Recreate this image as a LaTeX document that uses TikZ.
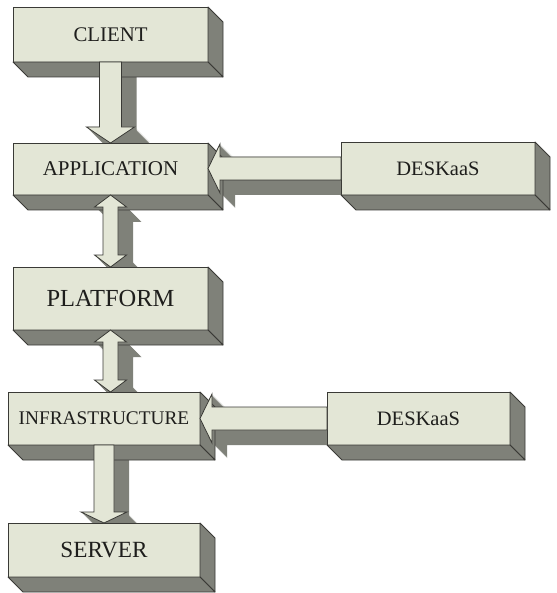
\documentclass[tikz,border=0pt]{standalone}
\usepackage{fontspec}
\setmainfont{Liberation Serif}
\usetikzlibrary{calc}
\pgfdeclarelayer{back}
\pgfsetlayers{back,main}
\definecolor{facecol}{HTML}{E3E6D6}
\definecolor{sidecol}{HTML}{7F8179}
\definecolor{edgecol}{HTML}{3A3A36}
\definecolor{txtcol}{HTML}{1E1E1C}
\tikzset{
 boxfront/.style={draw=edgecol, fill=facecol, line width=0.9pt, inner sep=0pt, outer sep=0pt, text=txtcol, anchor=center},
 boxside/.style={draw=edgecol, fill=sidecol, line width=0.8pt, line join=round},
 arrfront/.style={draw=edgecol, fill=facecol, line width=0.8pt, line join=miter},
 arrback/.style={fill=sidecol},
}
\newcommand\mkbox[7]{%
 \node[boxfront, minimum width={#4-#2}, minimum height={#5-#3}, font=\fontsize{#6}{#6}\selectfont] (#1) at ({(#2+#4)/2},{(#3+#5)/2}) {#7};
 \draw[boxside] (#1.north east) -- ++(15,15) -- ($(#1.south east)+(15,15)$) -- (#1.south east) -- cycle;
 \draw[boxside] (#1.south west) -- (#1.south east) -- ++(15,15) -- ($(#1.south west)+(15,15)$) -- cycle;
}
\newcommand\downarr[6]{%
 let \p1=($(#1)+(#6,#6)$), \p2=($(#2)+(#6,#6)$) in
 (\x1-#3pt,\y1) -- (\x1+#3pt,\y1) -- (\x1+#3pt,\y2+#5pt) -- (\x1+#4pt,\y2+#5pt) -- (\x1,\y2) -- (\x1-#4pt,\y2+#5pt) -- (\x1-#3pt,\y2+#5pt) -- cycle}
\newcommand\dblarr[6]{%
 let \p1=($(#1)+(#6,#6)$), \p2=($(#2)+(#6,#6)$) in
 (\x1,\y1) -- (\x1+#4pt,\y1-#5pt) -- (\x1+#3pt,\y1-#5pt) -- (\x1+#3pt,\y2+#5pt) -- (\x1+#4pt,\y2+#5pt) -- (\x1,\y2) -- (\x1-#4pt,\y2+#5pt) -- (\x1-#3pt,\y2+#5pt) -- (\x1-#3pt,\y1-#5pt) -- (\x1-#4pt,\y1-#5pt) -- cycle}
\newcommand\leftarr[6]{%
 let \p1=($(#1)+(#6,#6)$), \p2=($(#2)+(#6,#6)$) in
 (\x1,\y1+#3pt) -- (\x2+#5pt,\y1+#3pt) -- (\x2+#5pt,\y1+#4pt) -- (\x2,\y1) -- (\x2+#5pt,\y1-#4pt) -- (\x2+#5pt,\y1-#3pt) -- (\x1,\y1-#3pt) -- cycle}
\begin{document}
\begin{tikzpicture}[x=1pt,y=-1pt]
\useasboundingbox (0,0) rectangle (556,593);
\mkbox{client}{13}{7}{208}{62}{20.8}{CLIENT}
\mkbox{app}{13}{143}{208}{195}{21}{APPLICATION}
\mkbox{plat}{13}{267}{208}{330}{24.5}{PLATFORM}
\mkbox{infra}{8}{392}{200}{445}{19.3}{INFRASTRUCTURE}
\mkbox{server}{8}{523}{200}{577}{23.2}{SERVER}
\mkbox{deskA}{341}{142}{535}{195}{20.5}{DESKaaS}
\mkbox{deskB}{327}{392}{510}{445}{20.5}{DESKaaS}
\begin{pgfonlayer}{back}
 \fill[white] (0,0) rectangle (556,593);
 \foreach \k in {0,1,...,15} {
  \fill[arrback] \downarr{client.south}{app.north}{11}{24}{16}{\k};
  \fill[arrback] \dblarr{app.south}{plat.north}{7.5}{16}{12}{\k};
  \fill[arrback] \dblarr{plat.south}{infra.north}{7.5}{16}{12}{\k};
  \fill[arrback] \downarr{infra.south}{server.north}{10}{23}{11}{\k};
  \fill[arrback] \leftarr{deskA.west}{app.east}{11.5}{24.5}{12}{\k};
  \fill[arrback] \leftarr{deskB.west}{infra.east}{11.5}{24.5}{12}{\k};
 }
\end{pgfonlayer}
\draw[arrfront] \downarr{client.south}{app.north}{11}{24}{16}{0};
\draw[arrfront] \dblarr{app.south}{plat.north}{7.5}{16}{12}{0};
\draw[arrfront] \dblarr{plat.south}{infra.north}{7.5}{16}{12}{0};
\draw[arrfront] \downarr{infra.south}{server.north}{10}{23}{11}{0};
\draw[arrfront] \leftarr{deskA.west}{app.east}{11.5}{24.5}{12}{0};
\draw[arrfront] \leftarr{deskB.west}{infra.east}{11.5}{24.5}{12}{0};
\end{tikzpicture}
\end{document}
